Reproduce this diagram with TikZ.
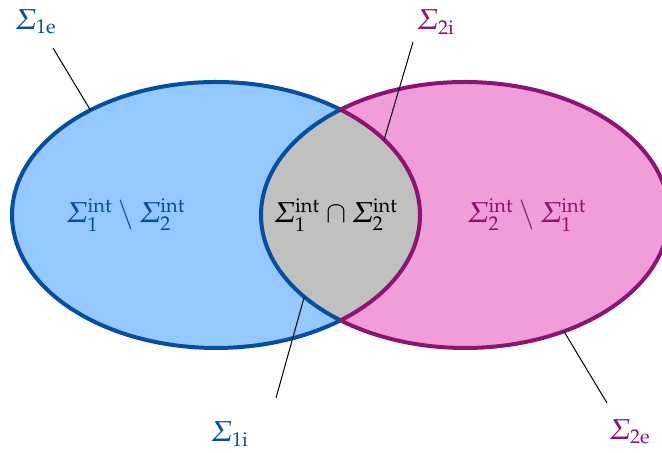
\documentclass[tikz,border=0pt]{standalone}
\usepackage[slantedGreek]{mathpazo}
\definecolor{setblue}{RGB}{5,78,160}
\definecolor{setpurple}{RGB}{140,20,115}
\definecolor{fillblue}{RGB}{148,200,255}
\definecolor{fillpink}{RGB}{240,157,217}
\definecolor{lensgray}{RGB}{192,192,192}
\begin{document}
\begin{tikzpicture}[x=0.5pt,y=0.5pt,font=\Large,
  rim/.style={line width=2pt,line join=round},
  pin/.style={line width=0.5pt},
  oval/.style={x radius=204,y radius=133}]
\useasboundingbox (0,0) rectangle (662,453);
\coordinate (cl) at (216,238);
\coordinate (cr) at (465,238);
% fills
\fill[fillblue] (cl) ellipse [oval];
\fill[fillpink] (cr) ellipse [oval];
\begin{scope}
\clip (cl) ellipse [oval];
\fill[lensgray] (cr) ellipse [oval];
\end{scope}
% boundaries
\draw[rim,setblue] ([shift={(52.39:204 and 133)}]cl)
  arc[oval,start angle=52.39,end angle=307.61]
  arc[oval,start angle=232.39,end angle=127.61] -- cycle;
\draw[rim,setpurple] ([shift={(127.61:204 and 133)}]cr)
  arc[oval,start angle=127.61,end angle=-127.61]
  arc[oval,start angle=-52.39,end angle=52.39] -- cycle;
% region labels
\node[setblue] (d1) at (126,238) {$\Sigma_1^{\mathrm{int}}\setminus\Sigma_2^{\mathrm{int}}$};
\node (cap) at (336,238) {$\Sigma_1^{\mathrm{int}}\cap\Sigma_2^{\mathrm{int}}$};
\node[setpurple] (d2) at (527,238) {$\Sigma_2^{\mathrm{int}}\setminus\Sigma_1^{\mathrm{int}}$};
% boundary labels
\node[setblue] (s1e) at (36,431) {$\Sigma_{1\mathrm{e}}$};
\node[setpurple] (s2i) at (436,431) {$\Sigma_{2\mathrm{i}}$};
\node[setblue] (s1i) at (230,19) {$\Sigma_{1\mathrm{i}}$};
\node[setpurple] (s2e) at (630,21) {$\Sigma_{2\mathrm{e}}$};
\coordinate (t1e) at (53,405);
\coordinate (t2i) at (413,411);
\coordinate (t1i) at (276,55);
\coordinate (t2e) at (607,50);
\coordinate (p1e) at ([shift={(128:204 and 133)}]cl);
\coordinate (p2i) at ([shift={(34.5:204 and 133)}]cl);
\coordinate (p1i) at ([shift={(218:204 and 133)}]cr);
\coordinate (p2e) at ([shift={(299:204 and 133)}]cr);
\draw[pin] (t1e) -- (p1e);
\draw[pin] (t2i) -- (p2i);
\draw[pin] (t1i) -- (p1i);
\draw[pin] (t2e) -- (p2e);
\end{tikzpicture}
\end{document}
